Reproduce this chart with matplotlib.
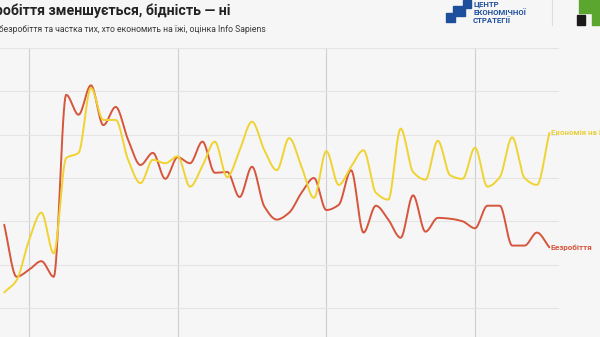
import matplotlib
matplotlib.use("Agg")
import matplotlib.pyplot as plt
import matplotlib.patches as mpatches
import numpy as np
import pandas as pd

plt.rcParams["font.family"] = ["Roboto", "DejaVu Sans"]

# ── data (monthly, %) ──────────────────────────────────────────────────────
MONTHS = pd.date_range("2021-11-01", periods=45, freq="MS")
UNEMPLOYMENT = [14.6, 8.6, 9.4, 10.4, 8.6, 29.6, 27.3, 30.7, 26.1, 28.2,
                24.4, 21.5, 22.9, 19.9, 22.4, 21.7, 24.2, 20.6, 20.7, 17.8,
                21.3, 16.7, 15.2, 16.0, 18.3, 20.0, 16.3, 16.9, 20.9, 13.7,
                16.8, 15.2, 13.1, 18.0, 13.8, 15.4, 15.3, 15.0, 14.2, 16.8,
                16.8, 12.2, 12.2, 13.7, 12.0]
FOOD_SAVING = [6.8, 8.2, 12.8, 16.0, 11.3, 22.3, 22.9, 30.4, 26.7, 26.7,
               22.1, 19.4, 22.1, 21.7, 22.5, 19.0, 21.4, 24.2, 20.1, 23.2,
               26.5, 23.2, 20.9, 24.6, 21.3, 17.7, 23.1, 19.2, 21.3, 23.2,
               18.3, 17.5, 25.7, 20.7, 19.8, 24.3, 20.3, 19.9, 23.5, 19.0,
               20.1, 24.7, 20.0, 19.2, 25.2]
YTICKS = [5, 10, 15, 20, 25, 30, 35]

RED = "#d6553c"
YELLOW = "#f0d332"
BG = "#f6f6f6"


def monotone(x, y, n=16):
    """Monotone cubic (Fritsch-Carlson) for a smooth drawn line."""
    x = np.asarray(x, float)
    y = np.asarray(y, float)
    h = np.diff(x)
    d = np.diff(y) / h
    m = np.zeros_like(y)
    m[0], m[-1] = d[0], d[-1]
    for k in range(1, len(y) - 1):
        if d[k - 1] * d[k] <= 0:
            m[k] = 0
        else:
            w1 = 2 * h[k] + h[k - 1]
            w2 = h[k] + 2 * h[k - 1]
            m[k] = (w1 + w2) / (w1 / d[k - 1] + w2 / d[k])
    xs, ys = [], []
    for k in range(len(x) - 1):
        t = np.linspace(0, 1, n, endpoint=False)
        h00 = 2 * t**3 - 3 * t**2 + 1
        h10 = t**3 - 2 * t**2 + t
        h01 = -2 * t**3 + 3 * t**2
        h11 = t**3 - t**2
        xs.append(x[k] + t * h[k])
        ys.append(h00 * y[k] + h10 * h[k] * m[k] + h01 * y[k + 1] + h11 * h[k] * m[k + 1])
    xs.append([x[-1]])
    ys.append([y[-1]])
    return np.concatenate(xs), np.concatenate(ys)


fig = plt.figure(figsize=(6, 3.37), dpi=100)
fig.patch.set_facecolor(BG)
ax = fig.add_axes([0, 0, 559 / 600, 1 - 48 / 337])
ax.set_facecolor(BG)

x = np.arange(len(MONTHS))
for vals, col in [(UNEMPLOYMENT, RED), (FOOD_SAVING, YELLOW)]:
    sx, sy = monotone(x, vals)
    ax.plot(sx, sy, color=col, lw=1.4, zorder=3, solid_capstyle="round")

for i, m in enumerate(MONTHS):
    if m.month == 1:
        ax.axvline(i, color="#cfcfcf", lw=0.8, zorder=1)

ax.set_xlim(-0.34, 44.78)
ax.set_ylim(1.65, 35)
ax.set_yticks(YTICKS)
ax.yaxis.grid(True, color="#e4e4e4", lw=0.8, zorder=0)
ax.tick_params(left=False, bottom=False, labelleft=False, labelbottom=False)
for s in ax.spines.values():
    s.set_visible(False)

# end labels
ax.text(len(x) - 1 + 0.12, FOOD_SAVING[-1], "Економія на їжі", color="#e8cf3a",
        fontsize=5.8, fontweight="bold", va="center", ha="left", clip_on=False)
ax.text(len(x) - 1 + 0.12, UNEMPLOYMENT[-1], "Безробіття", color=RED,
        fontsize=5.8, fontweight="bold", va="center", ha="left", clip_on=False)

# title / subtitle (left part cut off in the reference)
fig.text(230 / 600, 1 - 10.5 / 337, "Безробіття зменшується, бідність — ні",
         fontsize=10.15, fontweight="bold", color="#222222", ha="right", va="center")
fig.text(266 / 600, 1 - 29 / 337,
         "Рівень безробіття та частка тих, хто економить на їжі, оцінка Info Sapiens",
         fontsize=6.2, color="#3a3a3a", ha="right", va="center")

# logos
W, H = 600, 337


def px(xp, yp):
    return (xp / W, 1 - yp / H)


blue = "#1d4f9c"
stairs = [(446, 22), (446, 13), (453, 13), (453, 6), (463, 6), (463, 0),
          (471, 0), (471, 8), (465, 8), (465, 16), (455, 16), (455, 22)]
fig.patches.append(mpatches.Polygon([px(a, b) for a, b in stairs], closed=True,
                                    color=blue, transform=fig.transFigure))
for yy, t in [(4, "ЦЕНТР"), (12.5, "ЕКОНОМІЧНОЇ"), (20.5, "СТРАТЕГІЇ")]:
    fig.text(473 / W, 1 - yy / H, t, fontsize=5.6, color=blue, fontweight="bold",
             ha="left", va="center")
fig.lines.append(plt.Line2D([552 / W, 552 / W], [1, 1 - 25 / H], color="#dddddd",
                            lw=0.8, transform=fig.transFigure))
green = "#5aa62e"
fig.patches.append(mpatches.Polygon(
    [px(a, b) for a, b in [(579, 0), (600, 0), (600, 25), (592, 25), (592, 13), (579, 13)]],
    closed=True, color=green, transform=fig.transFigure))
fig.patches.append(mpatches.Rectangle(px(577, 25), 8 / W, 10 / H, color="#1a1a1a",
                                      transform=fig.transFigure))

fig.savefig("out.png", dpi=100, facecolor=BG)
